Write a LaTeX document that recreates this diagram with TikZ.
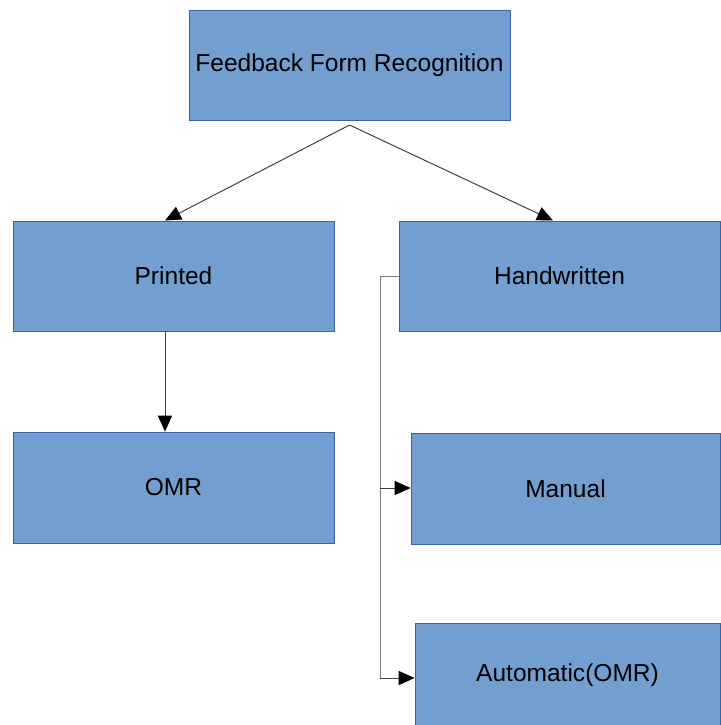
\documentclass[tikz,border=0pt]{standalone}
\usepackage{fontspec}
\setmainfont{Liberation Sans}
\usetikzlibrary{arrows.meta}
\definecolor{boxfill}{HTML}{729FCF}
\definecolor{boxline}{HTML}{3465A4}
\definecolor{conn}{HTML}{404040}
\tikzset{
  block/.style={draw=boxline, line width=0.5pt, fill=boxfill, inner sep=0pt,
    font=\fontsize{18.4}{22}\selectfont, text=black},
  link/.style={draw=conn, line width=0.75pt, -{Triangle[length=12pt,width=10.5pt,color=black]}},
  plain/.style={draw=conn!70, line width=0.75pt}
}
\begin{document}
\begin{tikzpicture}[x=0.75pt,y=-0.75pt]
\useasboundingbox (0,0) rectangle (721,725);
\node[block, minimum width=240.75pt, minimum height=82.5pt] (top) at (349.5,65) {Feedback Form Recognition};
\node[block, minimum width=240.75pt, minimum height=82.5pt] (printed) at (173.5,276) {Printed};
\node[block, minimum width=240.75pt, minimum height=82.5pt] (hand) at (559.5,276) {Handwritten};
\node[block, minimum width=240.75pt, minimum height=83.25pt] (omr) at (173.5,487.5) {OMR};
\node[block, minimum width=231.75pt, minimum height=83.25pt] (manual) at (565.5,488.5) {Manual};
\node[block, minimum width=228.75pt, minimum height=78pt] (auto) at (567.5,675) {Automatic(OMR)};
\coordinate (apex) at (349.5,125);
\coordinate (elbow) at (380,276);
\coordinate (bottom) at (380,678);
\draw[link] (apex) -- (165,220.5);
\draw[link] (apex) -- (553,220.5);
\draw[link] (printed.south -| 165,0) -- (omr.north -| 165,0);
\draw[plain] (hand.west) -- (elbow) -- (bottom);
\draw[link] (elbow |- 0,488) -- (manual.west |- 0,488);
\draw[link] (bottom) -- (auto.west |- bottom);
\end{tikzpicture}
\end{document}
